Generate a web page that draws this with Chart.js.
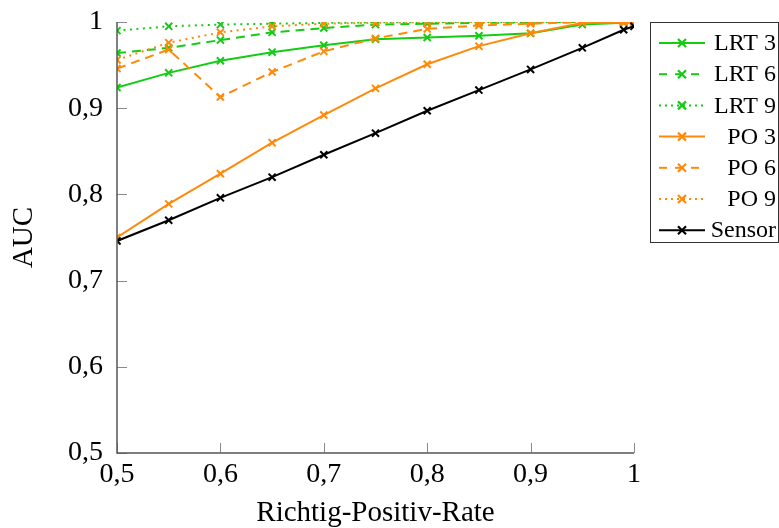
<!DOCTYPE html>
<html>
<head>
<meta charset="utf-8">
<script src="https://cdn.jsdelivr.net/npm/chart.js@4.4.1/dist/chart.umd.min.js"></script>
<style>
html,body{margin:0;padding:0;background:#fff;}
#wrap{width:779px;height:528px;position:relative;}
</style>
</head>
<body>
<div id="wrap"><canvas id="c" width="779" height="528"></canvas></div>
<script>
// ---- data ----
const tprValues = [0.5, 0.55, 0.6, 0.65, 0.7, 0.75, 0.8, 0.85, 0.9, 0.95, 0.99, 1.0];
const lrt3 = [0.924, 0.941, 0.955, 0.965, 0.973, 0.980, 0.982, 0.984, 0.987, 0.997, 0.999, 1.000];
const lrt6 = [0.964, 0.970, 0.979, 0.988, 0.993, 0.997, 0.998, 0.999, 0.9995, 1.000, 1.000, 1.000];
const lrt9 = [0.990, 0.995, 0.997, 0.998, 0.999, 0.9995, 1.000, 1.000, 1.000, 1.000, 1.000, 1.000];
const po3  = [0.750, 0.789, 0.824, 0.860, 0.892, 0.923, 0.951, 0.972, 0.987, 0.999, 0.999, 0.999];
const po6  = [0.946, 0.968, 0.913, 0.942, 0.966, 0.981, 0.992, 0.996, 0.998, 1.000, 1.000, 1.000];
const po9  = [0.956, 0.976, 0.988, 0.995, 0.998, 0.999, 1.000, 1.000, 1.000, 1.000, 1.000, 1.000];
const sensor = [0.746, 0.770, 0.796, 0.820, 0.846, 0.871, 0.897, 0.921, 0.945, 0.970, 0.991, 0.995];
const seriesLabels = ['LRT 3', 'LRT 6', 'LRT 9', 'PO 3', 'PO 6', 'PO 9', 'Sensor'];
const axisTicks = [0.5, 0.6, 0.7, 0.8, 0.9, 1.0];

const GREEN = '#14cc14';
const ORANGE = '#ff8a0a';
const BLACK = '#000000';
const DASH = [9, 6];
const DOT = [2, 4.5];

function mk(label, vals, color, dash, idx) {
  return {
    label: label,
    data: tprValues.map((x, i) => ({x: x, y: vals[i]})),
    borderColor: color,
    backgroundColor: color,
    borderWidth: 2,
    borderDash: dash,
    pointStyle: 'crossRot',
    pointRadius: 5,
    pointBorderWidth: 2,
    pointBorderColor: color,
    tension: 0,
    fill: false,
    order: -idx
  };
}

const datasets = [
  mk(seriesLabels[0], lrt3, GREEN, [], 0),
  mk(seriesLabels[1], lrt6, GREEN, DASH, 1),
  mk(seriesLabels[2], lrt9, GREEN, DOT, 2),
  mk(seriesLabels[3], po3, ORANGE, [], 3),
  mk(seriesLabels[4], po6, ORANGE, DASH, 4),
  mk(seriesLabels[5], po9, ORANGE, DOT, 5),
  mk(seriesLabels[6], sensor, BLACK, [], 6)
];

const fmt = v => (Math.abs(v - 1) < 1e-9 ? '1' : v.toFixed(1).replace('.', ','));
const SERIF = "'Liberation Serif', 'DejaVu Serif', serif";

const inwardTicks = {
  id: 'inwardTicks',
  afterDatasetsDraw(chart) {
    const {ctx, chartArea, scales} = chart;
    ctx.save();
    ctx.strokeStyle = '#8a8a8a';
    ctx.lineWidth = 1;
    axisTicks.forEach(v => {
      const px = Math.round(scales.x.getPixelForValue(v)) + 0.5;
      ctx.beginPath(); ctx.moveTo(px, chartArea.bottom); ctx.lineTo(px, chartArea.bottom - 10); ctx.stroke();
      const py = Math.round(scales.y.getPixelForValue(v)) + 0.5;
      ctx.beginPath(); ctx.moveTo(chartArea.left, py); ctx.lineTo(chartArea.left + 10, py); ctx.stroke();
    });
    ctx.strokeStyle = '#555';
    ctx.lineWidth = 1.5;
    ctx.beginPath();
    ctx.moveTo(chartArea.left, chartArea.top);
    ctx.lineTo(chartArea.left, chartArea.bottom);
    ctx.lineTo(chartArea.right, chartArea.bottom);
    ctx.stroke();
    ctx.restore();
  }
};

const boxLegend = {
  id: 'boxLegend',
  afterDraw(chart) {
    const ctx = chart.ctx;
    const bx = 650, by = 22, bw = 128, bh = 220;
    ctx.save();
    ctx.fillStyle = '#fff';
    ctx.fillRect(bx, by, bw, bh);
    ctx.strokeStyle = '#333';
    ctx.lineWidth = 1;
    ctx.strokeRect(bx + 0.5, by + 0.5, bw, bh);
    chart.data.datasets.forEach((ds, i) => {
      const y = 43 + i * 31.2;
      ctx.strokeStyle = ds.borderColor;
      ctx.lineWidth = 2;
      const d = ds.borderDash.length ? (ds.borderDash[0] > 5 ? [8, 8] : [2, 4]) : [];
      ctx.setLineDash(d);
      ctx.lineDashOffset = 0;
      ctx.beginPath(); ctx.moveTo(659, y); ctx.lineTo(705, y); ctx.stroke();
      ctx.setLineDash([]);
      const r = 4;
      ctx.lineWidth = 2.2;
      ctx.beginPath();
      ctx.moveTo(682 - r, y - r); ctx.lineTo(682 + r, y + r);
      ctx.moveTo(682 - r, y + r); ctx.lineTo(682 + r, y - r);
      ctx.stroke();
      ctx.fillStyle = '#000';
      ctx.font = "24px " + SERIF;
      ctx.textAlign = 'right';
      ctx.textBaseline = 'middle';
      ctx.fillText(ds.label, 776, y + 1);
    });
    ctx.restore();
  }
};

function zeroPad(s) { s.paddingTop = 0; s.paddingBottom = 0; s.paddingLeft = 0; s.paddingRight = 0; }

new Chart(document.getElementById('c'), {
  type: 'line',
  data: {datasets: datasets},
  options: {
    responsive: false,
    animation: false,
    devicePixelRatio: 1,
    layout: {padding: {left: 0, top: 22, right: 145, bottom: 0}},
    plugins: {legend: {display: false}, tooltip: {enabled: false}},
    scales: {
      x: {
        type: 'linear', min: 0.5, max: 1.0,
        afterFit: s => { s.height = 75; zeroPad(s); },
        afterBuildTicks: s => { s.ticks = axisTicks.map(v => ({value: v})); },
        grid: {display: false, drawTicks: false},
        border: {display: false},
        ticks: {callback: fmt, color: '#000', padding: 5, maxRotation: 0, font: {family: SERIF, size: 28}},
        title: {display: true, text: 'Richtig-Positiv-Rate', color: '#000', padding: {top: 0, bottom: -3}, font: {family: SERIF, size: 29}}
      },
      y: {
        type: 'linear', min: 0.5, max: 1.0,
        afterFit: s => { s.width = 117; zeroPad(s); },
        afterBuildTicks: s => { s.ticks = axisTicks.map(v => ({value: v})); },
        grid: {display: false, drawTicks: false},
        border: {display: false},
        ticks: {callback: fmt, color: '#000', padding: 14, font: {family: SERIF, size: 28}},
        title: {display: true, text: 'AUC', color: '#000', padding: {top: 7, bottom: 0}, font: {family: SERIF, size: 29}}
      }
    }
  },
  plugins: [inwardTicks, boxLegend]
});
</script>
</body>
</html>
